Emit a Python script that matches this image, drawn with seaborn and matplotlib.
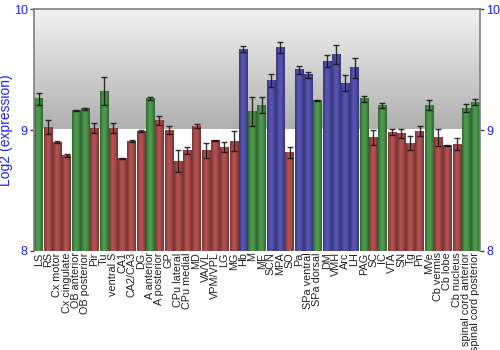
import numpy as np
import pandas as pd
import matplotlib
matplotlib.use("Agg")
import matplotlib.pyplot as plt
from matplotlib.colors import to_rgb, LinearSegmentedColormap
import seaborn as sns

# Brain regions, mean log2 expression, error half-widths and region class
tissues = ["LS", "RS", "Cx motor", "Cx cingulate", "OB anterior", "OB posterior",
           "Pir", "Tu", "ventral S", "CA1", "CA2/CA3", "DG", "A anterior",
           "A posterior", "GP", "CPu lateral", "CPu medial", "MD", "VA/VL",
           "VPM/VPL", "LG", "MG", "Hb", "M", "ME", "SCN", "MPA", "SO", "Pa",
           "SPa ventral", "SPa dorsal", "DM", "VMH", "Arc", "LH", "PAG", "SC",
           "IC", "VTA", "SN", "Tg", "Pn", "MVe", "Cb vermis", "Cb lobe",
           "Cb nucleus", "spinal cord anterior", "spinal cord posterior"]
values = [9.257, 9.025, 8.898, 8.790, 9.160, 9.177, 9.017, 9.323, 9.017, 8.762,
          8.909, 8.992, 9.257, 9.080, 9.000, 8.743, 8.832, 9.033, 8.832, 8.912,
          8.857, 8.906, 9.669, 9.157, 9.205, 9.412, 9.682, 8.815, 9.500, 9.456,
          9.243, 9.569, 9.624, 9.389, 9.514, 9.257, 8.936, 9.205, 8.983, 8.973,
          8.892, 8.992, 9.205, 8.936, 8.876, 8.884, 9.182, 9.229]
errors = [0.047, 0.055, 0.008, 0.010, 0.004, 0.008, 0.044, 0.117, 0.040, 0.004,
          0.007, 0.011, 0.012, 0.038, 0.034, 0.094, 0.030, 0.019, 0.063, 0.006,
          0.040, 0.083, 0.026, 0.120, 0.065, 0.054, 0.048, 0.045, 0.033, 0.022,
          0.007, 0.048, 0.080, 0.067, 0.084, 0.025, 0.062, 0.021, 0.025, 0.037,
          0.060, 0.040, 0.040, 0.070, 0.004, 0.051, 0.034, 0.025]
groups = ["g", "r", "r", "r", "g", "g", "r", "g", "r", "r", "r", "r", "g", "r",
          "r", "r", "r", "r", "r", "r", "r", "r", "b", "g", "g", "b", "b", "r",
          "b", "b", "g", "b", "b", "b", "b", "g", "r", "g", "r", "r", "r", "r",
          "g", "r", "r", "r", "g", "g"]

palette = {"g": "#3c9e3c", "r": "#b83c3c", "b": "#4040b8"}

df = pd.DataFrame({"tissue": tissues, "value": values, "group": groups})

sns.set_theme(style="white")
plt.rcParams["font.family"] = ["Liberation Sans", "DejaVu Sans"]

fig = plt.figure(figsize=(5, 3.5), dpi=100)
ax = fig.add_axes([0.068, 0.283, 0.892, 0.691])

n = len(tissues)
ymin, ymax = 8, 10

# grey gradient behind the upper half of the plot
bg = LinearSegmentedColormap.from_list("bg", ["#aeaeae", "#f3f3f3"])
ax.imshow(np.linspace(0, 1, 256).reshape(-1, 1)[::-1], extent=(-0.5, n - 0.5, 9, 10),
          aspect="auto", cmap=bg, zorder=0)
ax.axhline(9, color="white", lw=1.5, zorder=1)

sns.barplot(data=df, x="tissue", y="value", hue="group", palette=palette,
            dodge=False, errorbar=None, width=0.9, legend=False, ax=ax, zorder=2)

# horizontal shading across each bar
shade = np.array([0.70, 0.85, 1.00, 1.08, 1.05, 0.95, 0.82, 0.68])
xs = np.linspace(0, 1, len(shade))
xf = np.linspace(0, 1, 32)
prof = np.interp(xf, xs, shade)
for p in list(ax.patches):
    h = p.get_height()
    if h <= 0:
        continue
    base = np.array(to_rgb(p.get_facecolor()))
    row = np.clip(base[None, :] * prof[:, None], 0, 1)[None, :, :]
    x0, w = p.get_x(), p.get_width()
    ax.imshow(row, extent=(x0, x0 + w, ymin, h), aspect="auto", zorder=2.5,
              interpolation="bilinear")
    p.set_facecolor("none")
    p.set_edgecolor((1, 1, 1, 0.0))

ax.errorbar(np.arange(n), values, yerr=errors, fmt="none", ecolor="#111111",
            elinewidth=1.0, capsize=2.2, capthick=1.0, alpha=0.85, zorder=4)

ax.set_xlim(-0.5, n - 0.5)
ax.set_ylim(ymin, ymax)
ax.set_yticks([8, 9, 10])
ax.set_yticklabels(["8", "9", "10"])
ax.set_xlabel("")
ax.set_ylabel("Log2 (expression)", color="#2020ff", fontsize=10)
ax.yaxis.set_label_coords(-0.046, 0.5)

ax.tick_params(axis="y", which="both", left=True, right=True, labelleft=True,
               labelright=True, direction="out", length=3, width=1,
               color="#444444", labelcolor="#2020ff", labelsize=9, pad=1.5)
ax.tick_params(axis="x", length=0, pad=1, labelsize=7.8, labelcolor="#222222")
for lbl in ax.get_xticklabels():
    lbl.set_rotation(90)

for side in ["left", "right", "top"]:
    ax.spines[side].set_color("#808080")
    ax.spines[side].set_linewidth(1.2)
ax.spines["bottom"].set_visible(False)

fig.savefig("out.png", dpi=100)
